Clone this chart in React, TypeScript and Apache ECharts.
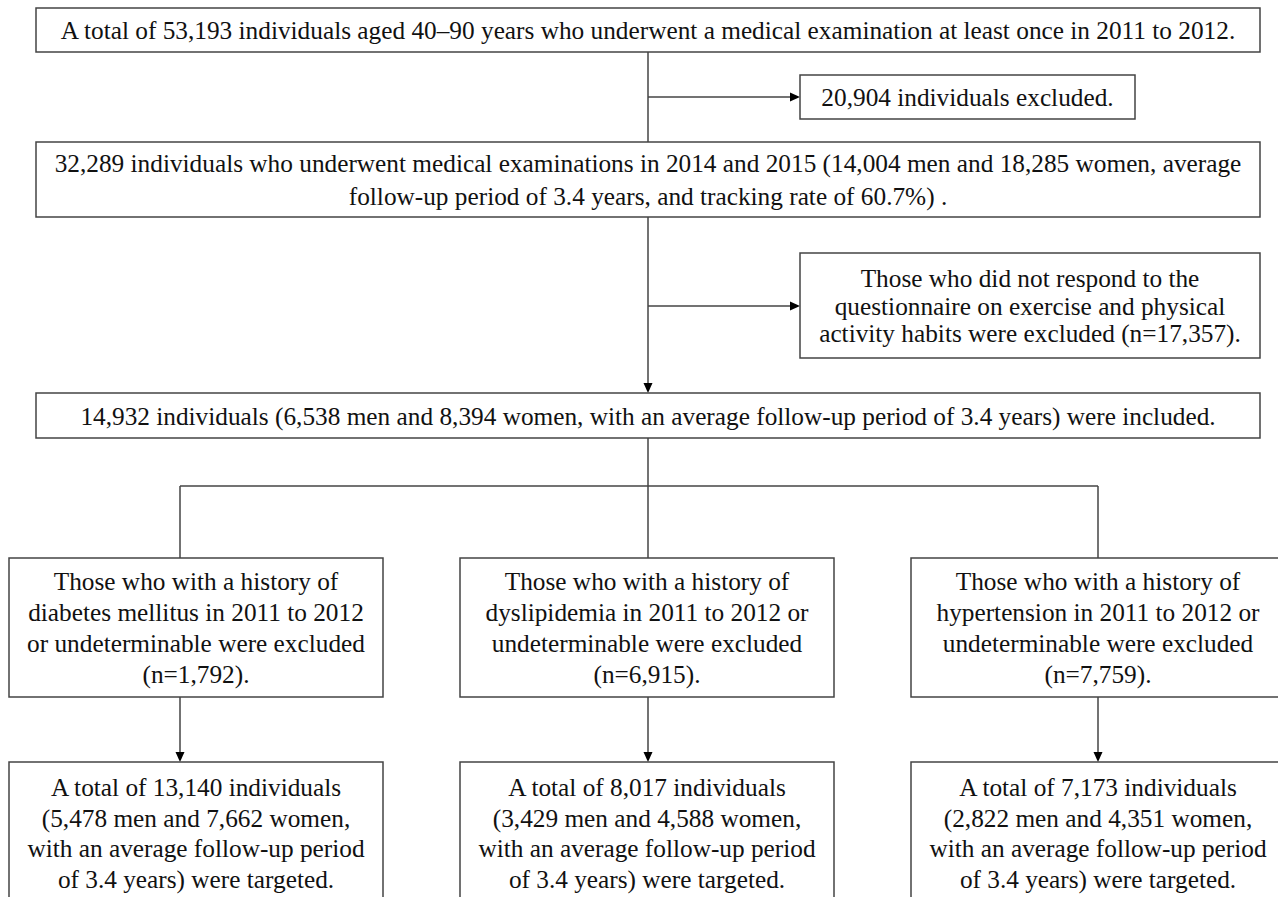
import React, { useEffect, useRef } from "react";
import * as echarts from "echarts";

// ---- content (text of each flow-chart box) ----
const topLines = [
  "A total of 53,193 individuals aged 40–90 years who underwent a medical examination at least once in 2011 to 2012.",
];
const excl1Lines = ["20,904 individuals excluded."];
const followLines = [
  "32,289 individuals who underwent medical examinations in 2014 and 2015 (14,004 men and 18,285 women, average",
  "follow-up period of 3.4 years, and tracking rate of 60.7%) .",
];
const excl2Lines = [
  "Those who did not respond to the",
  "questionnaire on exercise and physical",
  "activity habits were excluded (n=17,357).",
];
const includedLines = [
  "14,932 individuals (6,538 men and 8,394 women, with an average follow-up period of 3.4 years) were included.",
];
const conditions = ["diabetes mellitus", "dyslipidemia", "hypertension"];
const excludedN = ["1,792", "6,915", "7,759"];
const targetedN = ["13,140", "8,017", "7,173"];
const targetedMen = ["5,478", "3,429", "2,822"];
const targetedWomen = ["7,662", "4,588", "4,351"];

const midLines = [
  ["Those who with a history of", `${conditions[0]} in 2011 to 2012`, "or undeterminable were excluded", `(n=${excludedN[0]}).`],
  ["Those who with a history of", `${conditions[1]} in 2011 to 2012 or`, "undeterminable were excluded", `(n=${excludedN[1]}).`],
  ["Those who with a history of", `${conditions[2]} in 2011 to 2012 or`, "undeterminable were excluded", `(n=${excludedN[2]}).`],
];
const botLines = targetedN.map((n, i) => [
  `A total of ${n} individuals`,
  `(${targetedMen[i]} men and ${targetedWomen[i]} women,`,
  "with an average follow-up period",
  "of 3.4 years) were targeted.",
]);

// ---- layout / style ----
const FONT = "Liberation Serif";
const FS = 25.3;
const STROKE = "#444";
const LW = 1.5;

type Box = { x: number; y: number; w: number; h: number; lines: string[]; lh: number };

const boxes: Box[] = [
  { x: 36, y: 8, w: 1224, h: 44, lines: topLines, lh: 30 },
  { x: 800, y: 75, w: 335, h: 44, lines: excl1Lines, lh: 30 },
  { x: 36, y: 142, w: 1224, h: 75, lines: followLines, lh: 33 },
  { x: 800, y: 253, w: 460, h: 105, lines: excl2Lines, lh: 27.5 },
  { x: 36, y: 393, w: 1224, h: 45, lines: includedLines, lh: 30 },
  ...[9, 460, 911].map((x, i) => ({ x, y: 558, w: 374, h: 139, lines: midLines[i], lh: 30.7 })),
  ...[9, 460, 911].map((x, i) => ({ x, y: 762, w: 374, h: 142, lines: botLines[i], lh: 30.5 })),
];

type Seg = [number, number, number, number, boolean];
const segs: Seg[] = [
  [648, 52, 648, 142, false],
  [648, 97, 800, 97, true],
  [648, 217, 648, 393, true],
  [648, 306, 800, 306, true],
  [648, 438, 648, 486, false],
  [180, 486, 1098, 486, false],
  [180, 486, 180, 558, false],
  [648, 486, 648, 558, false],
  [1098, 486, 1098, 558, false],
  [180, 697, 180, 762, true],
  [648, 697, 648, 762, true],
  [1098, 697, 1098, 762, true],
];

function buildGraphic() {
  const els: any[] = [];
  segs.forEach(([x1, y1, x2, y2, arrow]) => {
    const L = 10;
    const hw = 4.5;
    let ex2 = x2, ey2 = y2;
    if (arrow) {
      if (x1 === x2) ey2 = y2 - L + 1;
      else ex2 = x2 - L + 1;
    }
    els.push({ type: "line", shape: { x1, y1, x2: ex2, y2: ey2 }, style: { stroke: STROKE, lineWidth: LW } });
    if (arrow) {
      const pts = x1 === x2
        ? [[x2 - hw, y2 - L], [x2 + hw, y2 - L], [x2, y2]]
        : [[x2 - L, y2 - hw], [x2 - L, y2 + hw], [x2, y2]];
      els.push({ type: "polygon", shape: { points: pts }, style: { fill: "#000" } });
    }
  });
  boxes.forEach((b) => {
    els.push({
      type: "rect",
      shape: { x: b.x, y: b.y, width: b.w, height: b.h },
      style: { fill: "#fff", stroke: STROKE, lineWidth: LW },
    });
    const cx = b.x + b.w / 2;
    const cy = b.y + b.h / 2;
    const n = b.lines.length;
    b.lines.forEach((t, i) => {
      const y = cy + (i - (n - 1) / 2) * b.lh;
      els.push({
        type: "text",
        x: cx,
        y,
        style: {
          text: t,
          fill: "#111",
          font: `${FS}px "${FONT}", serif`,
          fontSize: FS,
          fontFamily: FONT,
          align: "center",
          verticalAlign: "middle",
          textAlign: "center",
          textVerticalAlign: "middle",
        },
      });
    });
  });
  return els;
}

export default function App() {
  const ref = useRef<HTMLDivElement>(null);
  useEffect(() => {
    if (!ref.current) return;
    const chart = echarts.init(ref.current, undefined, { renderer: "svg" });
    chart.setOption({
      animation: false,
      backgroundColor: "#fff",
      graphic: { elements: buildGraphic() },
    });
    return () => chart.dispose();
  }, []);
  return (
    <div
      ref={ref}
      style={{ position: "fixed", left: 0, top: 0, width: 1278, height: 897, background: "#fff" }}
    />
  );
}
